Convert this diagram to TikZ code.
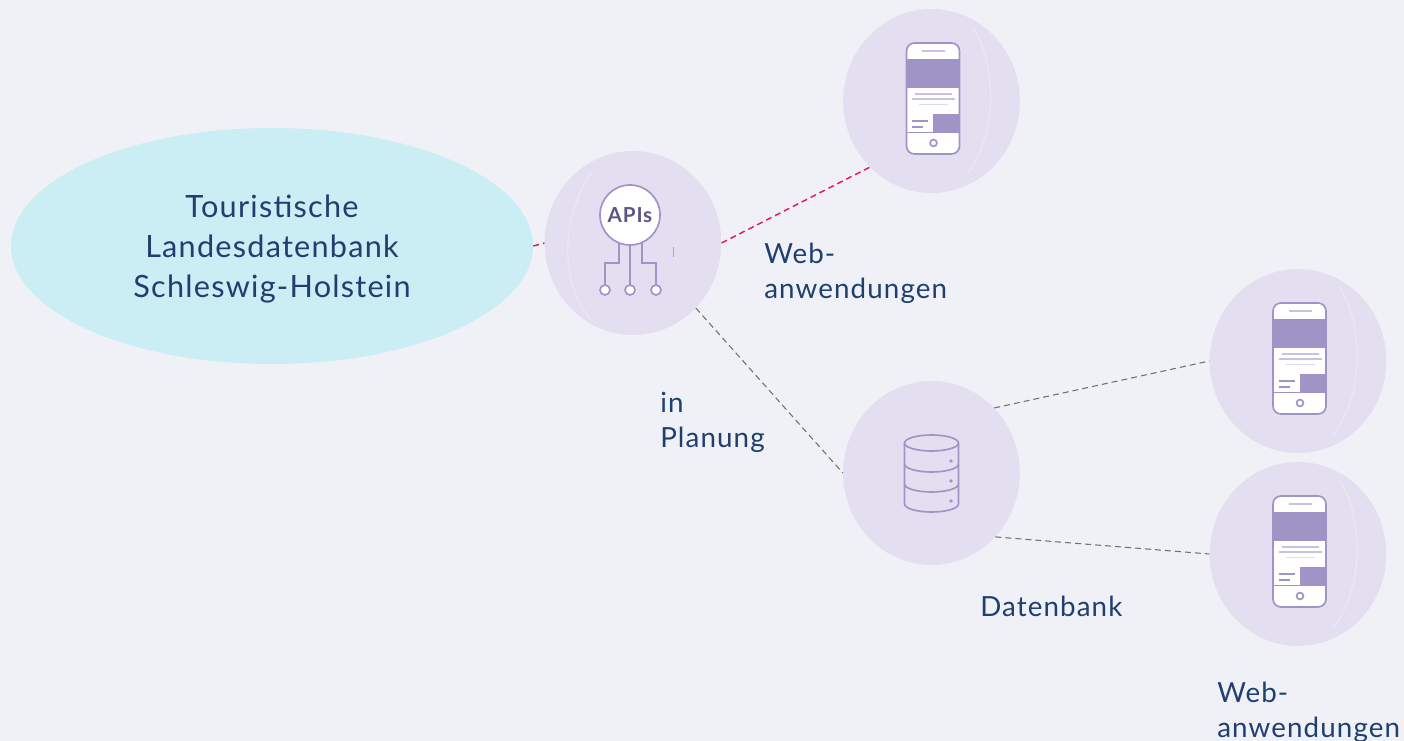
\documentclass[tikz,border=0pt]{standalone}
\usepackage{fontspec}
\setmainfont[LetterSpace=4]{Lato}
\usetikzlibrary{shapes.geometric}
\definecolor{bgc}{HTML}{F0F1F7}
\definecolor{discc}{HTML}{E4DFF0}
\definecolor{ellc}{HTML}{CBEDF4}
\definecolor{purp}{HTML}{A093C6}
\definecolor{purpl}{HTML}{C9C1DF}
\definecolor{purpd}{HTML}{5E5488}
\definecolor{redl}{HTML}{E5195F}
\definecolor{grayl}{HTML}{707070}
\definecolor{navy}{HTML}{1F3F70}
\tikzset{
  x=0.75pt,y=-0.75pt,
  disc/.style={shape=ellipse,fill=discc,minimum width=132.5pt,minimum height=138pt,inner sep=0pt},
  bigell/.style={shape=ellipse,fill=ellc,minimum width=391.5pt,minimum height=177pt,inner sep=0pt},
  bigtxt/.style={inner sep=0pt,text=navy,align=center,font=\fontsize{23}{30}\selectfont},
  lab/.style={anchor=north west,inner sep=0pt,text=navy,align=left,font=\fontsize{20.8}{26}\selectfont},
  reddash/.style={draw=redl,line width=1.1pt,dash pattern=on 4.5pt off 3pt},
  graydash/.style={draw=grayl,line width=0.8pt,dash pattern=on 4.5pt off 3pt},
  sheen/.style={draw=white,opacity=0.3,line width=0.7pt},
  ico/.style={draw=purp,line width=1.25pt},
  phone/.pic={
    \draw[ico,fill=white,rounded corners=6pt] (-25,-58) rectangle (28,53);
    \fill[purp] (-25,-42) rectangle (28,-13);
    \fill[purp] (1.5,13) rectangle (28,31);
    \draw[ico,line width=.9pt] (-25,31.5) -- (28,31.5);
    \draw[purpl,line width=1.3pt] (-9.5,-50) -- (13.5,-50);
    \draw[purpl,line width=1.2pt] (-16.5,-7) -- (20.5,-7);
    \draw[purpl,line width=1.2pt] (-19.5,-2) -- (23.5,-2);
    \draw[purpl!60,line width=1.2pt] (-12.5,3.5) -- (16.5,3.5);
    \draw[purp,line width=1pt] (-19.5,20) -- (-3.5,20);
    \draw[purp,line width=1pt] (-19.5,26) -- (-8.5,26);
    \draw[ico] (2,42) circle[radius=3.4];
    \draw[sheen] (41.5,-74) .. controls (66,-35) and (66,35) .. (35,74);
  }
}
\begin{document}
\begin{tikzpicture}
\useasboundingbox (0,0) rectangle (1404,741);
\fill[bgc] (0,0) rectangle (1404,741);
\node[disc] (phoneA) at (931.5,101) {};
\node[disc] (api) at (633,243) {};
\node[disc] (db) at (931.5,473) {};
\node[disc] (phoneB) at (1298,361) {};
\node[disc] (phoneC) at (1298,554) {};
\node[bigell] (ell) at (272,246) {};
\node[bigtxt] (elltxt) at (272,249) {Touristische\\Landesdatenbank\\Schleswig-Holstein};
\draw[reddash] (ell.east) -- (api.west);
\draw[reddash] (api.east) -- (phoneA.227);
\draw[graydash] (api.-46) -- (db.west);
\draw[graydash] (db.46) -- (phoneB.west);
\draw[graydash] (db.-45) -- (phoneC.west);
\pic at (phoneA.center) {phone};
\pic at (phoneB.center) {phone};
\pic at (phoneC.center) {phone};
% API icon
\begin{scope}[shift={(api.center)}]
  \draw[sheen] (-41,-71) .. controls (-73,-25) and (-73,40) .. (-43,75);
  \draw[grayl!60,line width=.5pt] (40,4) -- (40,14);
  \draw[ico] (-14,-4) -- (-14,20) -- (-28,20) -- (-28,47);
  \draw[ico] (-3,-4) -- (-3,47);
  \draw[ico] (9,-4) -- (9,20) -- (23,20) -- (23,47);
  \draw[ico,fill=white] (-28,47) circle[radius=5];
  \draw[ico,fill=white] (-3,47) circle[radius=5];
  \draw[ico,fill=white] (23,47) circle[radius=5];
  \node[circle,draw=purp,line width=1.25pt,fill=white,minimum width=45pt,inner sep=0pt,text=purpd,font=\fontsize{15.5}{16}\selectfont\bfseries] (apitxt) at (-3,-28) {APIs};
\end{scope}
% database icon
\begin{scope}[shift={(db.center)}]
  \draw[ico] (-27,-30) -- (-27,31) arc[start angle=180,end angle=0,x radius=27,y radius=8] -- (27,-30);
  \draw[ico] (0,-30) ellipse[x radius=27,y radius=8];
  \draw[ico] (-27,-9) arc[start angle=180,end angle=0,x radius=27,y radius=8];
  \draw[ico] (-27,11) arc[start angle=180,end angle=0,x radius=27,y radius=8];
  \fill[purp] (19.5,-12) circle[radius=1.8] (19.5,8) circle[radius=1.8] (19.5,28) circle[radius=1.8];
\end{scope}
\node[lab] (t1) at (764,243) {Web-\\anwendungen};
\node[lab] (t2) at (660,392) {in\\Planung};
\node[lab] (t3) at (980,596) {Datenbank};
\node[lab] (t4) at (1217,682) {Web-\\anwendungen};
\end{tikzpicture}
\end{document}
